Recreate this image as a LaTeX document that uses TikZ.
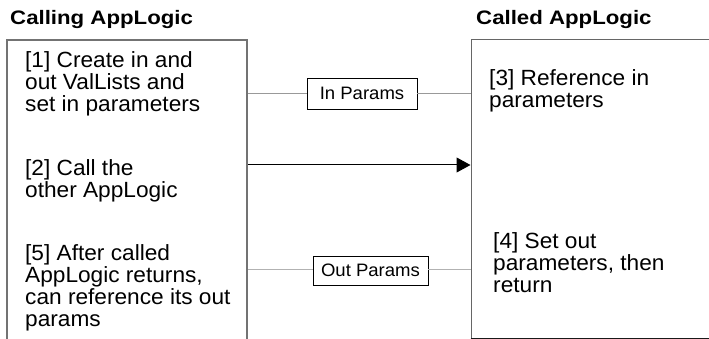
\documentclass[tikz,border=0pt]{standalone}
\usepackage{fontspec}
\setmainfont{Liberation Sans}[FakeStretch=1.03]
\newfontfamily\headfont{Liberation Sans}[FakeStretch=1.14]
\usetikzlibrary{arrows.meta}
\begin{document}
\begin{tikzpicture}[x=1pt,y=-1pt,
  heading/.style={anchor=base west, inner sep=0pt, font=\headfont\fontsize{19.5}{22}\selectfont\bfseries},
  % multi-line texts: the base anchor sits on the last line's baseline
  steptext/.style={anchor=base west, inner sep=0pt, align=left, font=\fontsize{22}{22}\selectfont},
  tag/.style={draw=black, line width=0.8pt, fill=white, inner sep=0pt, font=\fontsize{18}{20}\selectfont},
  link/.style={line width=0.9pt},
]
\useasboundingbox (0,0) rectangle (709,339);
\clip (0,0) rectangle (709,339);

% headings
\node[heading] (hcaller) at (10,25) {Calling AppLogic};
\node[heading] (hcallee) at (476,25) {Called AppLogic};

% the two AppLogic panels
\node[draw=black!55, line width=1.5pt, minimum width=240pt, minimum height=340pt, inner sep=0pt]
  (caller) at (127,210) {};
\node[draw=black!60, line width=1pt, minimum width=260pt, minimum height=298pt, inner sep=0pt]
  (callee) at (601,189) {};
\draw[black!90, line width=1pt] (callee.south west) -- (callee.south east);

% steps in the calling AppLogic
\node[steptext] (s1) at (25,112) {[1] Create in and\\out ValLists and\\set in parameters};
\node[steptext] (s2) at (25,197) {[2] Call the\\other AppLogic};
\node[steptext] (s5) at (25,326) {[5] After called\\AppLogic returns,\\can reference its out\\params};

% steps in the called AppLogic
\node[steptext] (s3) at (489,108) {[3] Reference in\\parameters};
\node[steptext] (s4) at (493,292) {[4] Set out\\parameters, then\\return};

% parameter tags
\node[tag, minimum width=110pt, minimum height=31pt] (inp) at (362,93.5) {In Params};
\node[tag, minimum width=115pt, minimum height=29pt] (outp) at (370.5,270.5) {Out Params};

% connectors
\draw[link, black!40] (inp.west |- 0,93) -- (caller.east |- 0,93);
\draw[link, black!40] (inp.east |- 0,93) -- (callee.west |- 0,93);
\coordinate (callrow) at (300,165);
\draw[black, line width=1pt, -{Triangle[length=14pt,width=15pt]}]
  (caller.east |- callrow) -- (callee.west |- callrow);
\draw[link, black!30] (outp.west |- 0,269) -- (caller.east |- 0,269);
\draw[link, black!30] (outp.east |- 0,269) -- (callee.west |- 0,269);
\end{tikzpicture}
\end{document}
